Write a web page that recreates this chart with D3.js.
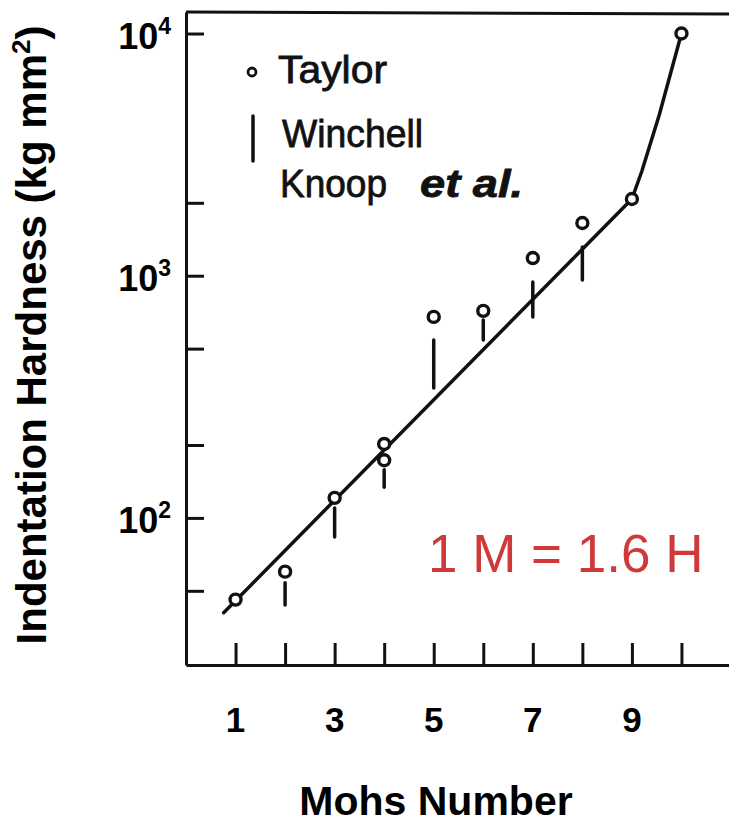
<!DOCTYPE html>
<html>
<head>
<meta charset="utf-8">
<script src="https://cdn.jsdelivr.net/npm/d3@7"></script>
<style>
  html, body { margin: 0; padding: 0; background: #fff; }
  svg { display: block; }
</style>
</head>
<body>
<svg id="chart" width="729" height="825"></svg>
<script>
// ---------- data ----------
const mohs = [1, 2, 3, 4, 4, 5, 6, 7, 8, 9, 10];
const taylorHardness = [46, 60, 121, 202, 173, 676, 716, 1183, 1651, 2074, 10000];

const winchellMohs = [2, 3, 4, 5, 6, 7, 8];
const winchellLow  = [43.7, 83.5, 134, 344, 543, 676, 959];
const winchellHigh = [54, 110, 158, 543, 656, 942, 1315];

const fitMohs = [0.76, 9, 9.2, 9.55, 10];
const fitHardness = [40.6, 2074, 2700, 4600, 10000];

const xTickValues = [1, 2, 3, 4, 5, 6, 7, 8, 9, 10];
const xTickLabels = [1, 3, 5, 7, 9];
const yTickValues = [50, 100, 200, 500, 1000, 2000, 10000];
const yLabelValues = [100, 1000, 10000];

const xDomain = [0, 11];
const yDomain = [24.7, 12270];

// ---------- layout ----------
const svg = d3.select("#chart");
const plotLeft = 186, plotRight = 731, plotTop = 12, plotBottom = 665;

const x = d3.scaleLinear().domain(xDomain).range([plotLeft, plotRight]);
const y = d3.scaleLog().domain(yDomain).range([plotBottom, plotTop]);

const ink = "#111";
const font = "'Liberation Sans', Arial, sans-serif";

// top frame line
svg.append("line")
  .attr("x1", plotLeft).attr("x2", plotRight)
  .attr("y1", plotTop).attr("y2", plotTop + 2)
  .attr("stroke", ink).attr("stroke-width", 3);

// y axis (ticks inward)
const yAxis = svg.append("g")
  .attr("transform", `translate(${plotLeft},0)`)
  .call(d3.axisLeft(y).tickValues(yTickValues).tickSize(-18).tickSizeOuter(0).tickFormat(""));
yAxis.select(".domain").attr("stroke", ink).attr("stroke-width", 3);
yAxis.selectAll(".tick line").attr("stroke", ink).attr("stroke-width", 3);

// x axis (ticks inward)
const xAxis = svg.append("g")
  .attr("transform", `translate(0,${plotBottom})`)
  .call(d3.axisBottom(x).tickValues(xTickValues).tickSize(-22).tickSizeOuter(0).tickFormat(""));
xAxis.select(".domain").attr("stroke", ink).attr("stroke-width", 3);
xAxis.selectAll(".tick line").attr("stroke", ink).attr("stroke-width", 3);

// x tick labels
svg.append("g").selectAll("text")
  .data(xTickLabels).join("text")
  .attr("x", d => x(d))
  .attr("y", 732)
  .attr("text-anchor", "middle")
  .attr("font-family", font)
  .attr("font-weight", "bold")
  .attr("font-size", 35)
  .attr("fill", "#000")
  .text(d => d);

// y tick labels 10^n
const yl = svg.append("g").selectAll("text")
  .data(yLabelValues).join("text")
  .attr("x", 171)
  .attr("y", d => y(d) + 15)
  .attr("text-anchor", "end")
  .attr("font-family", font)
  .attr("font-weight", "bold")
  .attr("font-size", 36)
  .attr("fill", "#000");
yl.append("tspan").text("10");
yl.append("tspan").attr("font-size", 23).attr("dy", -15).text(d => Math.round(Math.log10(d)));

// axis titles
svg.append("text")
  .attr("x", 436).attr("y", 815)
  .attr("text-anchor", "middle")
  .attr("font-family", font)
  .attr("font-weight", "bold")
  .attr("font-size", 41)
  .attr("fill", "#000")
  .text("Mohs Number");

const yt = svg.append("text")
  .attr("transform", "translate(46,335) rotate(-90)")
  .attr("text-anchor", "middle")
  .attr("font-family", font)
  .attr("font-weight", "bold")
  .attr("font-size", 42)
  .attr("fill", "#000");
yt.append("tspan").text("Indentation Hardness (kg mm");
yt.append("tspan").attr("font-size", 26).attr("dy", -16).text("2");
yt.append("tspan").attr("dy", 16).text(")");

// fit line
const line = d3.line().x(d => x(d[0])).y(d => y(d[1])).curve(d3.curveLinear);
svg.append("path")
  .datum(fitMohs.map((m, i) => [m, fitHardness[i]]))
  .attr("d", line)
  .attr("fill", "none")
  .attr("stroke", ink)
  .attr("stroke-width", 3.5)
  .attr("stroke-linecap", "round")
  .attr("stroke-linejoin", "round");

// Winchell / Knoop bars
svg.append("g").selectAll("line")
  .data(winchellMohs.map((m, i) => ({ m, lo: winchellLow[i], hi: winchellHigh[i] })))
  .join("line")
  .attr("x1", d => x(d.m)).attr("x2", d => x(d.m))
  .attr("y1", d => y(d.hi)).attr("y2", d => y(d.lo))
  .attr("stroke", ink)
  .attr("stroke-width", 3.5)
  .attr("stroke-linecap", "round");

// Taylor circles
svg.append("g").selectAll("circle")
  .data(mohs.map((m, i) => ({ m, v: taylorHardness[i] })))
  .join("circle")
  .attr("cx", d => x(d.m))
  .attr("cy", d => y(d.v))
  .attr("r", 5.5)
  .attr("fill", "#fff")
  .attr("stroke", ink)
  .attr("stroke-width", 3.4);

// legend
svg.append("circle").attr("cx", 252).attr("cy", 72).attr("r", 4)
  .attr("fill", "#fff").attr("stroke", ink).attr("stroke-width", 2.8);
svg.append("line").attr("x1", 253).attr("x2", 253).attr("y1", 116).attr("y2", 161)
  .attr("stroke", ink).attr("stroke-width", 3.5).attr("stroke-linecap", "round");

const legendItems = [
  { t: "Taylor", x: 278, y: 83, w: 109, style: "normal" },
  { t: "Winchell", x: 282, y: 147, w: 141, style: "normal" },
  { t: "Knoop", x: 280, y: 197, w: 107, style: "normal" },
  { t: "et al.", x: 420, y: 197, w: 103, style: "italic" }
];
svg.append("g").selectAll("text")
  .data(legendItems).join("text")
  .attr("x", d => d.x).attr("y", d => d.y)
  .attr("font-family", font)
  .attr("font-size", 39)
  .attr("font-style", d => d.style)
  .attr("font-weight", d => d.style === "italic" ? "bold" : "normal")
  .attr("fill", ink)
  .attr("stroke", ink)
  .attr("stroke-width", 0.8)
  .attr("textLength", d => d.w)
  .attr("lengthAdjust", "spacingAndGlyphs")
  .text(d => d.t);

// red annotation
svg.append("text")
  .attr("x", 428).attr("y", 572)
  .attr("font-family", font)
  .attr("font-size", 53)
  .attr("fill", "#d0393a")
  .text("1 M = 1.6 H");
</script>
</body>
</html>
